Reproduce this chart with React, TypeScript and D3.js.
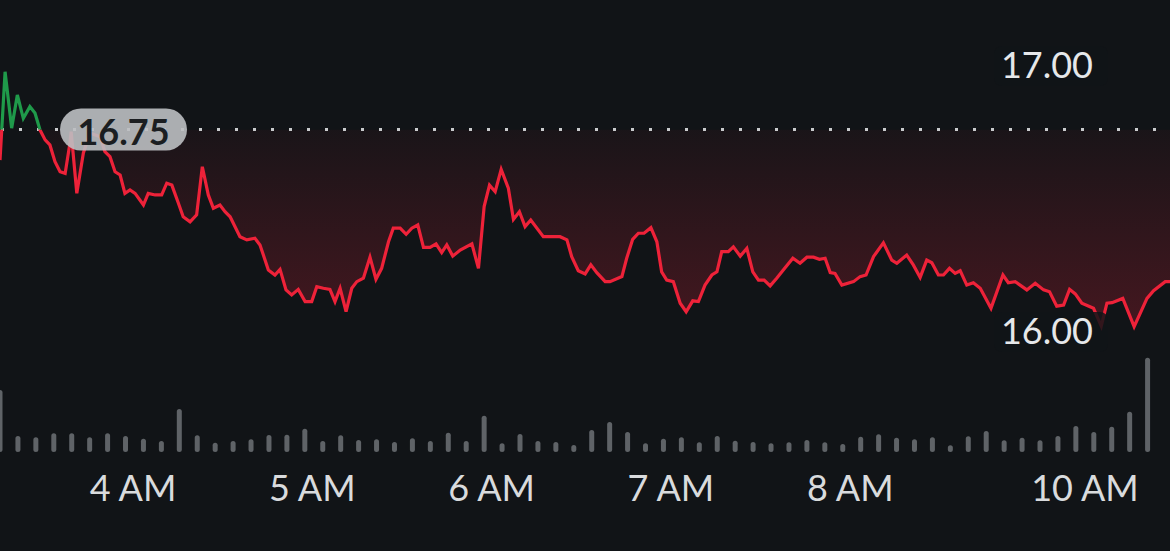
import React from "react";
import * as d3 from "d3";

// ---- data ----
// price samples: minutes since midnight, price (USD)
const priceTimes: number[] = [
  195.0, 196.7, 198.9, 200.8, 202.8, 205.0, 206.7, 208.4, 210.1, 211.7,
  213.4, 215.1, 216.8, 218.4, 218.8, 220.7, 222.9, 225.1, 228.5, 230.1,
  231.8, 233.5, 235.2, 236.8, 238.5, 240.2, 243.0, 244.6, 246.9, 249.1,
  250.8, 252.5, 254.7, 256.3, 258.6, 260.8, 262.7, 264.7, 266.4, 268.6,
  270.3, 272.0, 275.3, 277.6, 280.3, 282.0, 284.8, 287.0, 288.7, 290.7,
  292.6, 294.8, 297.1, 299.3, 301.0, 303.2, 305.4, 307.1, 308.8, 310.8,
  312.7, 314.4, 316.6, 318.8, 320.8, 322.7, 325.0, 326.6, 328.9, 330.9,
  332.8, 334.8, 336.7, 338.9, 340.9, 342.8, 344.5, 346.5, 349.0, 352.9,
  355.1, 357.0, 358.8, 360.7, 362.7, 365.1, 366.8, 368.8, 370.7, 372.6,
  376.8, 382.4, 384.7, 386.3, 388.5, 390.8, 392.7, 394.7, 397.5, 399.1,
  403.1, 404.7, 406.7, 408.6, 410.5, 412.8, 414.8, 416.4, 418.1, 420.3,
  422.6, 424.6, 426.8, 428.7, 430.9, 433.2, 434.9, 436.5, 438.7, 440.4,
  442.7, 444.9, 446.9, 448.8, 450.7, 452.7, 454.9, 457.1, 460.3, 462.7,
  465.0, 467.2, 469.2, 471.1, 472.8, 474.4, 476.7, 480.6, 482.8, 484.8,
  487.3, 490.6, 493.4, 495.1, 498.4, 500.6, 502.9, 505.1, 506.8, 509.0,
  510.7, 512.7, 514.6, 516.3, 518.5, 520.7, 523.0, 526.6, 530.6, 532.4,
  534.7, 538.6, 541.4, 544.2, 546.2, 548.6, 550.9, 552.9, 554.8, 557.0,
  560.9, 563.5, 565.4, 567.1, 570.7, 574.5, 578.8, 581.0, 584.9, 586.5,
];
const prices: number[] = [
  16.635, 16.967, 16.755, 16.880, 16.792, 16.836, 16.812, 16.748, 16.711, 16.692,
  16.629, 16.591, 16.585, 16.698, 16.742, 16.510, 16.662, 16.737, 16.723, 16.667,
  16.648, 16.591, 16.579, 16.510, 16.523, 16.510, 16.466, 16.510, 16.504, 16.504,
  16.548, 16.541, 16.473, 16.422, 16.403, 16.429, 16.610, 16.504, 16.454, 16.466,
  16.441, 16.422, 16.347, 16.335, 16.341, 16.316, 16.222, 16.203, 16.224, 16.147,
  16.128, 16.149, 16.103, 16.103, 16.159, 16.153, 16.149, 16.103, 16.153, 16.065,
  16.153, 16.178, 16.191, 16.270, 16.187, 16.228, 16.328, 16.379, 16.379, 16.356,
  16.379, 16.391, 16.307, 16.307, 16.320, 16.287, 16.316, 16.274, 16.297, 16.320,
  16.228, 16.460, 16.541, 16.516, 16.600, 16.529, 16.412, 16.441, 16.385, 16.410,
  16.347, 16.347, 16.335, 16.272, 16.219, 16.207, 16.241, 16.212, 16.178, 16.178,
  16.197, 16.266, 16.337, 16.360, 16.360, 16.381, 16.328, 16.215, 16.184, 16.178,
  16.097, 16.065, 16.106, 16.103, 16.165, 16.203, 16.215, 16.291, 16.291, 16.309,
  16.274, 16.303, 16.215, 16.184, 16.184, 16.162, 16.191, 16.222, 16.266, 16.247,
  16.270, 16.270, 16.262, 16.266, 16.212, 16.209, 16.165, 16.178, 16.197, 16.203,
  16.272, 16.324, 16.259, 16.247, 16.278, 16.241, 16.194, 16.259, 16.249, 16.203,
  16.203, 16.228, 16.209, 16.219, 16.165, 16.174, 16.153, 16.078, 16.203, 16.174,
  16.178, 16.147, 16.172, 16.147, 16.140, 16.086, 16.090, 16.149, 16.132, 16.097,
  16.078, 16.011, 16.097, 16.099, 16.115, 16.009, 16.115, 16.144, 16.178, 16.178,
];

// volume per 6-minute bucket starting 3:15 AM (thousands)
const volumeStart = 195;
const volumeStep = 6;
const volumes: number[] = [
  62, 16, 14.7, 18.7, 18.7, 14.7, 18.7, 16, 13.3, 11,
  43, 16.7, 9.3, 11, 12.7, 17, 17.3, 23.3, 11, 16.7,
  12, 12.7, 10, 13.7, 11, 19.3, 11, 36.3, 8.7, 18,
  11, 10, 7, 22, 30, 20, 8.7, 13.3, 14.7, 9.7,
  16, 11.3, 10, 8.7, 9.7, 12, 9.7, 8, 15.3, 17.7,
  14.3, 12.7, 14.7, 6.7, 15.7, 21, 11.7, 14.3, 11.7, 16,
  26, 20, 25.3, 40.3, 94.3,
];

const referencePrice = 16.75;
const priceLabels: number[] = [17.0, 16.0];
const hourTicks: number[] = [4, 5, 6, 7, 8, 10];
const hourLabels: string[] = ["4 AM", "5 AM", "6 AM", "7 AM", "8 AM", "10 AM"];

// ---- layout ----
const W = 1170;
const H = 551;
const BG = "#111417";
const RED = "#ee2239";
const GREEN = "#1f9a4a";
const FONT = "Lato, 'Open Sans', sans-serif";
const FS = 36;

export default function App() {
  const x = d3.scaleLinear().domain([195, 586.5]).range([0, W]);
  const y = d3.scaleLinear().domain([16, 17]).range([329, 63]);
  const vh = d3.scaleLinear().domain([0, 100]).range([0, 100]);
  const volBottom = 452;

  const pts = priceTimes.map((t, i) => [t, prices[i]] as [number, number]);
  const baseY = y(referencePrice);

  const line = d3
    .line<[number, number]>()
    .x((d) => x(d[0]))
    .y((d) => y(d[1]))
    .curve(d3.curveLinear)(pts) as string;

  const area = d3
    .area<[number, number]>()
    .x((d) => x(d[0]))
    .y0(baseY)
    .y1((d) => y(d[1]))(pts) as string;

  return (
    <div style={{ width: W, height: H, background: BG }}>
      <style>{`html,body{margin:0;padding:0;background:${BG};}`}</style>
      <svg width={W} height={H} style={{ display: "block" }}>
        <defs>
          <clipPath id="above">
            <rect x={0} y={0} width={W} height={baseY} />
          </clipPath>
          <clipPath id="below">
            <rect x={0} y={baseY} width={W} height={H - baseY} />
          </clipPath>
          <linearGradient id="fillGrad" gradientUnits="userSpaceOnUse" x1={0} y1={baseY} x2={0} y2={y(16)}>
            <stop offset="0%" stopColor="#e8213a" stopOpacity={0.04} />
            <stop offset="100%" stopColor="#e8213a" stopOpacity={0.24} />
          </linearGradient>
        </defs>
        <rect x={0} y={0} width={W} height={H} fill={BG} />

        {/* area between reference line and price */}
        <path d={area} fill="url(#fillGrad)" clipPath="url(#below)" />

        {/* reference dotted line */}
        <line
          x1={1}
          x2={W}
          y1={baseY}
          y2={baseY}
          stroke="#c9cbcd"
          strokeWidth={3}
          strokeDasharray="3 15"
        />

        {/* price line */}
        <path d={line} fill="none" stroke={RED} strokeWidth={3.2} strokeLinejoin="miter" clipPath="url(#below)" />
        <path d={line} fill="none" stroke={GREEN} strokeWidth={3.2} strokeLinejoin="miter" clipPath="url(#above)" />

        {/* reference price pill */}
        <g>
          <rect x={60} y={baseY - 21} width={127} height={42} rx={21} fill="#bcbfc2" opacity={0.9} />
          <text
            x={123.5}
            y={baseY + 1}
            textAnchor="middle"
            dominantBaseline="central"
            fontFamily={FONT}
            fontWeight={700}
            fontSize={FS}
            fill="#1b1e21"
          >
            {referencePrice.toFixed(2)}
          </text>
        </g>

        {/* price labels with a soft backdrop */}
        {priceLabels.map((p) => (
          <g key={p}>
            <rect
              x={994}
              y={y(p) - 17}
              width={114}
              height={40}
              rx={8}
              fill={BG}
              opacity={0.85}
            />
            <text
              x={1093}
              y={y(p) + 1}
              textAnchor="end"
              dominantBaseline="central"
              fontFamily={FONT}
              fontSize={FS}
              fill="#e6e8ea"
            >
              {p.toFixed(2)}
            </text>
          </g>
        ))}

        {/* volume bars */}
        {volumes.map((v, k) => {
          const cx = x(volumeStart + k * volumeStep);
          const top = volBottom - vh(v);
          let y1 = top + 2.5;
          const y2 = volBottom - 2.5;
          if (y1 > y2) y1 = y2;
          return (
            <line
              key={k}
              x1={cx}
              x2={cx}
              y1={y1}
              y2={y2}
              stroke="#5f6367"
              strokeWidth={5}
              strokeLinecap="round"
            />
          );
        })}

        {/* time axis labels */}
        {hourTicks.map((h, i) => {
          const px = Math.min(x(h * 60) - 1.5, W - 85);
          return (
            <text
              key={h}
              x={px}
              y={487}
              textAnchor="middle"
              dominantBaseline="central"
              fontFamily={FONT}
              fontSize={FS}
              fill="#d9dbdd"
            >
              {hourLabels[i]}
            </text>
          );
        })}
      </svg>
    </div>
  );
}
